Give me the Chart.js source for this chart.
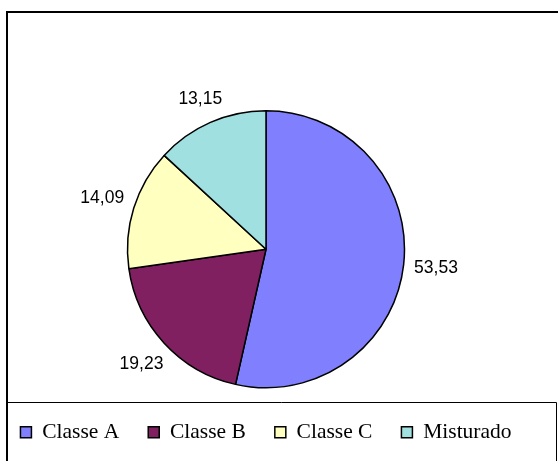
<!DOCTYPE html>
<html>
<head>
<meta charset="utf-8">
<script src="https://cdn.jsdelivr.net/npm/chart.js@4.4.1/dist/chart.umd.min.js"></script>
<style>
  html, body { margin: 0; padding: 0; background: #fff; overflow: hidden; }
  /* canvas is wider than the window so the legend fits on one row;
     it is shifted left so the pie sits where it does in the original */
  canvas { display: block; margin-left: -44px; }
</style>
</head>
<body>
<canvas id="pieChart" width="620" height="461"></canvas>
<script>
// Chart data
const categories = ['Classe A', 'Classe B', 'Classe C', 'Misturado'];
const shares = [53.53, 19.23, 14.09, 13.15];
const sliceColors = ['#8080FF', '#802060', '#FFFFC0', '#A0E0E0'];

const shiftX = 44; // same as the css margin

// Frame around the chart and around the legend
const framePlugin = {
    id: 'frame',
    afterDraw(chart) {
        const ctx = chart.ctx;
        ctx.save();
        ctx.translate(shiftX, 0);
        ctx.strokeStyle = '#000';
        ctx.lineWidth = 2;
        ctx.beginPath();
        ctx.moveTo(7, 470);
        ctx.lineTo(7, 12);
        ctx.lineTo(560, 12);
        ctx.stroke();
        ctx.lineWidth = 1;
        ctx.beginPath();
        ctx.moveTo(7, 402.5);
        ctx.lineTo(556.5, 402.5);
        ctx.moveTo(556.5, 402.5);
        ctx.lineTo(556.5, 470);
        ctx.stroke();
        ctx.restore();
    }
};

// Value labels outside each slice
const valueLabels = {
    id: 'valueLabels',
    afterDatasetsDraw(chart) {
        const ctx = chart.ctx;
        const meta = chart.getDatasetMeta(0);
        ctx.save();
        ctx.font = '17.5px "Liberation Sans", Arial, sans-serif';
        ctx.fillStyle = '#000';
        ctx.textAlign = 'center';
        ctx.textBaseline = 'middle';
        meta.data.forEach((arc, i) => {
            const p = arc.getProps(['x', 'y', 'startAngle', 'endAngle', 'outerRadius'], true);
            const mid = (p.startAngle + p.endAngle) / 2;
            const text = shares[i].toFixed(2).replace('.', ',');
            const halfW = ctx.measureText(text).width / 2;
            const halfH = 7;
            const cos = Math.cos(mid), sin = Math.sin(mid);
            const dist = p.outerRadius + 10 + halfW * Math.abs(cos) + halfH * Math.abs(sin);
            ctx.fillText(text, p.x + cos * dist, p.y + sin * dist);
        });
        ctx.restore();
    }
};

const ctx = document.getElementById('pieChart').getContext('2d');
const pieChart = new Chart(ctx, {
    type: 'pie',
    data: {
        labels: categories,
        datasets: [{
            data: shares,
            backgroundColor: sliceColors,
            borderColor: '#000',
            borderWidth: 1.5,
            hoverOffset: 0
        }]
    },
    options: {
        responsive: false,
        animation: false,
        layout: {
            padding: { top: 110, bottom: 8, left: 0, right: 0 }
        },
        plugins: {
            tooltip: { enabled: false },
            legend: {
                position: 'bottom',
                // empty title only pushes the items down a little
                title: { display: true, text: '', font: { size: 2 }, padding: { top: 0, bottom: 1.6 } },
                labels: {
                    boxWidth: 11,
                    boxHeight: 11,
                    padding: 29,
                    color: '#000',
                    font: { family: '"Liberation Serif", "Times New Roman", serif', size: 21.5 }
                }
            }
        }
    },
    plugins: [framePlugin, valueLabels]
});
</script>
</body>
</html>
